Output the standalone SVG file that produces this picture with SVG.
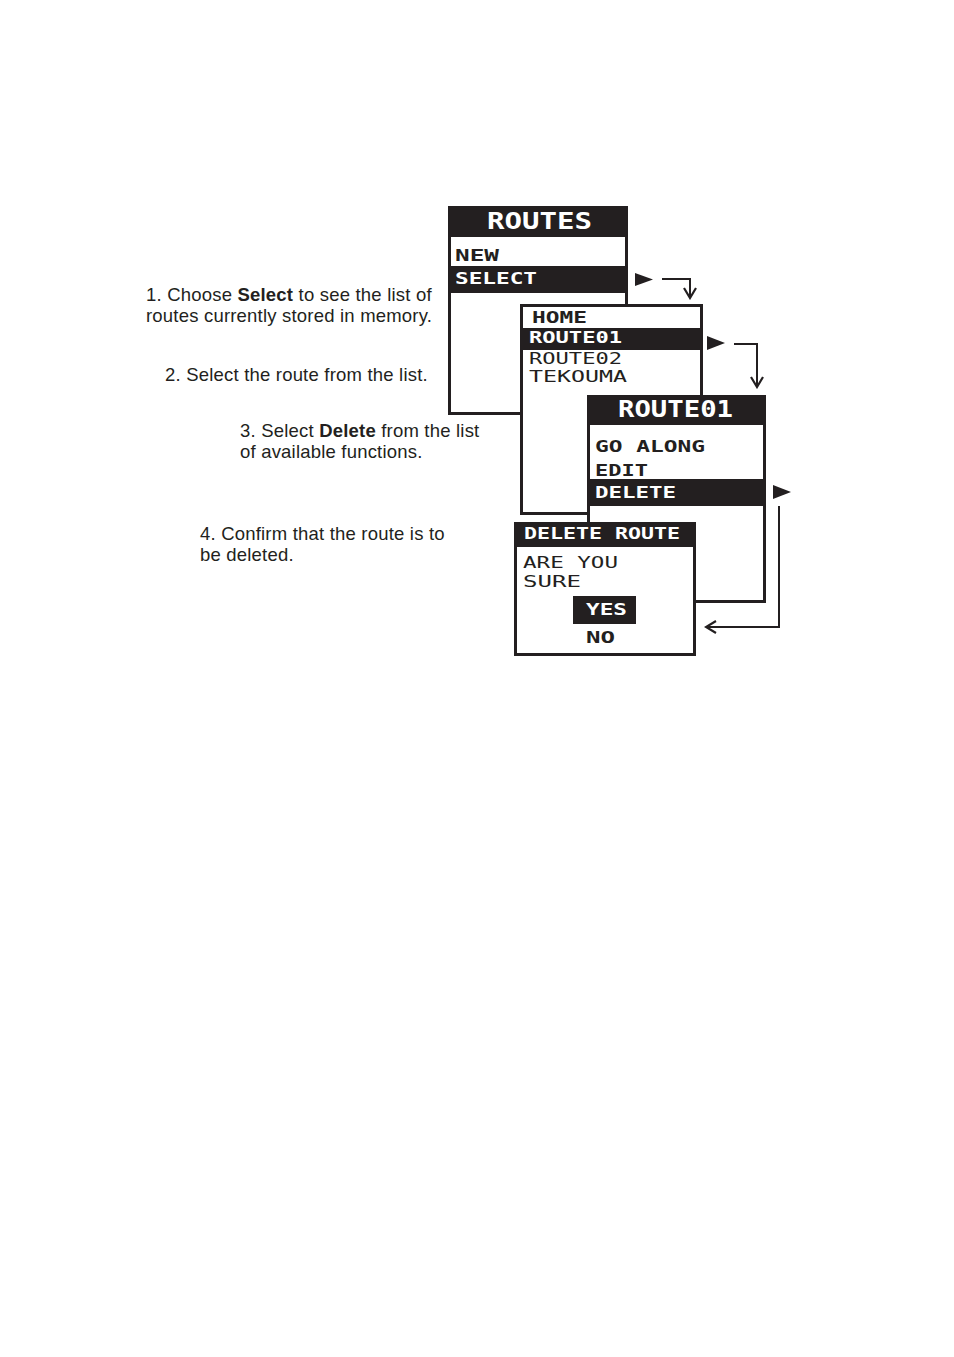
<svg xmlns="http://www.w3.org/2000/svg" width="954" height="1357" viewBox="0 0 954 1357">
<defs>
<style>
.frame{fill:#fff;stroke:#231f20;stroke-width:3}
.bar{fill:#231f20}
.lcd{font-family:"DejaVu Sans Mono","Liberation Mono",monospace;font-weight:bold;font-size:15px;fill:#231f20}
.lcdn{font-weight:normal}
.inv{fill:#fff}
.hdr{font-size:23px}
.body{font-family:"Liberation Sans",Arial,sans-serif;font-size:18.5px;letter-spacing:0.2px;fill:#231f20}
.b{font-weight:bold}
.wire{fill:none;stroke:#231f20;stroke-width:2}
.tri{fill:#231f20}
</style>
<marker id="chev" viewBox="-12 -8 14 16" markerWidth="14" markerHeight="16" refX="0" refY="0" orient="auto" markerUnits="userSpaceOnUse">
<path d="M-10,-6 L0,0 L-10,6" fill="none" stroke="#231f20" stroke-width="2.2"/>
</marker>
</defs>
<rect width="954" height="1357" fill="#fff"/>

<g id="captions">
<text class="body" x="146" y="301">1. Choose <tspan class="b">Select</tspan> to see the list of</text>
<text class="body" x="146" y="322">routes currently stored in memory.</text>
<text class="body" x="165" y="381">2. Select the route from the list.</text>
<text class="body" x="240" y="437">3. Select <tspan class="b">Delete</tspan> from the list</text>
<text class="body" x="240" y="458">of available functions.</text>
<text class="body" x="200" y="540">4. Confirm that the route is to</text>
<text class="body" x="200" y="561">be deleted.</text>
</g>

<g id="screen-routes">
<rect class="frame" x="449.5" y="207.5" width="177" height="206"/>
<rect class="bar" x="448" y="206" width="180" height="31"/>
<rect class="bar" x="448" y="266" width="180" height="27"/>
<text class="lcd hdr inv" x="487" y="229" textLength="105" lengthAdjust="spacingAndGlyphs">ROUTES</text>
<text class="lcd" x="455" y="261" textLength="44" lengthAdjust="spacingAndGlyphs">NEW</text>
<text class="lcd inv" x="455" y="284" textLength="82" lengthAdjust="spacingAndGlyphs">SELECT</text>
</g>

<g id="screen-list">
<rect class="frame" x="521.5" y="305.5" width="180" height="208"/>
<rect class="bar" x="520" y="328" width="183" height="22"/>
<text class="lcd" x="532" y="323" textLength="55" lengthAdjust="spacingAndGlyphs">HOME</text>
<text class="lcd inv" x="529" y="343" textLength="93" lengthAdjust="spacingAndGlyphs">ROUTE01</text>
<text class="lcd lcdn" x="529" y="364" textLength="93" lengthAdjust="spacingAndGlyphs">ROUTE02</text>
<text class="lcd lcdn" x="529" y="382" textLength="98" lengthAdjust="spacingAndGlyphs">TEKOUMA</text>
</g>

<g id="screen-route01">
<rect class="frame" x="588.5" y="396.5" width="176" height="205"/>
<rect class="bar" x="587" y="395" width="179" height="30"/>
<rect class="bar" x="587" y="479" width="179" height="27"/>
<text class="lcd hdr inv" x="618" y="417" textLength="115" lengthAdjust="spacingAndGlyphs">ROUTE01</text>
<text class="lcd" x="595" y="452" textLength="110" lengthAdjust="spacingAndGlyphs">GO ALONG</text>
<text class="lcd" x="595" y="476" textLength="53" lengthAdjust="spacingAndGlyphs">EDIT</text>
<text class="lcd inv" x="595" y="498" textLength="81" lengthAdjust="spacingAndGlyphs">DELETE</text>
</g>

<g id="screen-delete">
<rect class="frame" x="515.5" y="523.5" width="179" height="131"/>
<rect class="bar" x="514" y="522" width="182" height="25"/>
<rect class="bar" x="573" y="596" width="63" height="28"/>
<text class="lcd inv" x="524" y="539" textLength="156" lengthAdjust="spacingAndGlyphs">DELETE ROUTE</text>
<text class="lcd lcdn" x="523" y="568" textLength="95" lengthAdjust="spacingAndGlyphs">ARE YOU</text>
<text class="lcd lcdn" x="523" y="587" textLength="58" lengthAdjust="spacingAndGlyphs">SURE</text>
<text class="lcd inv" x="586" y="615" textLength="41" lengthAdjust="spacingAndGlyphs">YES</text>
<text class="lcd" x="586" y="643" textLength="29" lengthAdjust="spacingAndGlyphs">NO</text>
</g>

<g id="connectors">
<polygon class="tri" points="635,273 653,279.5 635,286"/>
<path class="wire" d="M662,279 H690 V298" marker-end="url(#chev)"/>
<polygon class="tri" points="707,336 725,343 707,350"/>
<path class="wire" d="M734,344 H757 V387" marker-end="url(#chev)"/>
<polygon class="tri" points="773,485 791,492 773,499"/>
<path class="wire" d="M779,506 V627 H706" marker-end="url(#chev)"/>
</g>
</svg>
